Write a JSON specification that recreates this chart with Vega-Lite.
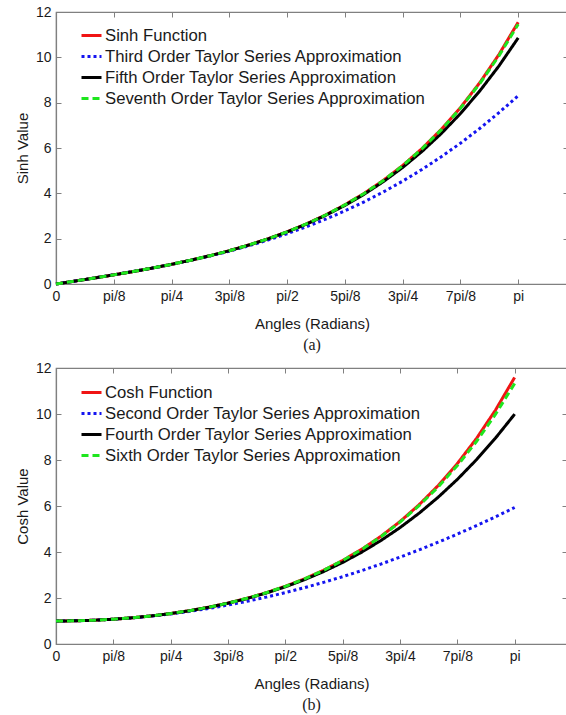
{
  "$schema": "https://vega.github.io/schema/vega-lite/v6.json",
  "background": "white",
  "padding": {"left": 14, "top": 4, "right": 0, "bottom": 0},
  "spacing": 6,
  "datasets": {
    "curves": [
      {"x": 0, "sinh": 0, "t3": 0, "t5": 0, "t7": 0, "cosh": 1, "c2": 1, "c4": 1, "c6": 1},
      {"x": 0.1309, "sinh": 0.131, "t3": 0.131, "t5": 0.131, "t7": 0.131, "cosh": 1.009, "c2": 1.009, "c4": 1.009, "c6": 1.009},
      {"x": 0.2618, "sinh": 0.265, "t3": 0.265, "t5": 0.265, "t7": 0.265, "cosh": 1.034, "c2": 1.034, "c4": 1.034, "c6": 1.034},
      {"x": 0.3927, "sinh": 0.403, "t3": 0.403, "t5": 0.403, "t7": 0.403, "cosh": 1.078, "c2": 1.077, "c4": 1.078, "c6": 1.078},
      {"x": 0.5236, "sinh": 0.548, "t3": 0.548, "t5": 0.548, "t7": 0.548, "cosh": 1.14, "c2": 1.137, "c4": 1.14, "c6": 1.14},
      {"x": 0.6545, "sinh": 0.702, "t3": 0.701, "t5": 0.702, "t7": 0.702, "cosh": 1.222, "c2": 1.214, "c4": 1.222, "c6": 1.222},
      {"x": 0.7854, "sinh": 0.869, "t3": 0.866, "t5": 0.869, "t7": 0.869, "cosh": 1.325, "c2": 1.308, "c4": 1.324, "c6": 1.325},
      {"x": 0.9163, "sinh": 1.05, "t3": 1.045, "t5": 1.05, "t7": 1.05, "cosh": 1.45, "c2": 1.42, "c4": 1.449, "c6": 1.45},
      {"x": 1.0472, "sinh": 1.249, "t3": 1.239, "t5": 1.249, "t7": 1.249, "cosh": 1.6, "c2": 1.548, "c4": 1.598, "c6": 1.6},
      {"x": 1.1781, "sinh": 1.47, "t3": 1.451, "t5": 1.47, "t7": 1.47, "cosh": 1.778, "c2": 1.694, "c4": 1.774, "c6": 1.778},
      {"x": 1.309, "sinh": 1.716, "t3": 1.683, "t5": 1.715, "t7": 1.716, "cosh": 1.986, "c2": 1.857, "c4": 1.979, "c6": 1.986},
      {"x": 1.4399, "sinh": 1.992, "t3": 1.937, "t5": 1.989, "t7": 1.992, "cosh": 2.229, "c2": 2.037, "c4": 2.216, "c6": 2.228},
      {"x": 1.5708, "sinh": 2.301, "t3": 2.217, "t5": 2.296, "t7": 2.301, "cosh": 2.509, "c2": 2.234, "c4": 2.487, "c6": 2.508},
      {"x": 1.7017, "sinh": 2.65, "t3": 2.523, "t5": 2.642, "t7": 2.65, "cosh": 2.833, "c2": 2.448, "c4": 2.797, "c6": 2.831},
      {"x": 1.8326, "sinh": 3.045, "t3": 2.858, "t5": 3.031, "t7": 3.044, "cosh": 3.205, "c2": 2.679, "c4": 3.149, "c6": 3.202},
      {"x": 1.9635, "sinh": 3.492, "t3": 3.225, "t5": 3.468, "t7": 3.491, "cosh": 3.632, "c2": 2.928, "c4": 3.547, "c6": 3.627},
      {"x": 2.0944, "sinh": 3.999, "t3": 3.626, "t5": 3.961, "t7": 3.996, "cosh": 4.122, "c2": 3.193, "c4": 3.995, "c6": 4.112},
      {"x": 2.2253, "sinh": 4.574, "t3": 4.062, "t5": 4.517, "t7": 4.57, "cosh": 4.682, "c2": 3.476, "c4": 4.498, "c6": 4.666},
      {"x": 2.3562, "sinh": 5.228, "t3": 4.536, "t5": 5.141, "t7": 5.221, "cosh": 5.323, "c2": 3.776, "c4": 5.06, "c6": 5.298},
      {"x": 2.4871, "sinh": 5.972, "t3": 5.051, "t5": 5.844, "t7": 5.961, "cosh": 6.055, "c2": 4.093, "c4": 5.687, "c6": 6.016},
      {"x": 2.618, "sinh": 6.818, "t3": 5.609, "t5": 6.633, "t7": 6.801, "cosh": 6.891, "c2": 4.427, "c4": 6.384, "c6": 6.831},
      {"x": 2.7489, "sinh": 7.781, "t3": 6.211, "t5": 7.519, "t7": 7.754, "cosh": 7.845, "c2": 4.778, "c4": 7.157, "c6": 7.757},
      {"x": 2.8798, "sinh": 8.877, "t3": 6.86, "t5": 8.511, "t7": 8.837, "cosh": 8.933, "c2": 5.147, "c4": 8.012, "c6": 8.805},
      {"x": 3.0107, "sinh": 10.126, "t3": 7.559, "t5": 9.62, "t7": 10.065, "cosh": 10.175, "c2": 5.532, "c4": 8.956, "c6": 9.99},
      {"x": 3.1416, "sinh": 11.549, "t3": 8.309, "t5": 10.859, "t7": 11.459, "cosh": 11.592, "c2": 5.935, "c4": 9.994, "c6": 11.329}
    ]
  },
  "vconcat": [
    {
      "width": 512,
      "height": 272,
      "title": {"text": "(a)", "orient": "bottom", "font": "Liberation Serif", "fontSize": 16, "fontWeight": "normal", "color": "#1a1a1a", "offset": 6},
      "data": {"name": "curves"},
      "transform": [{"fold": ["sinh", "t3", "t5", "t7"], "as": ["series", "value"]}],
      "layer": [
        {
          "mark": {"type": "line", "strokeWidth": 3},
          "encoding": {
            "x": {"field": "x", "type": "quantitative", "title": "Angles (Radians)",
              "scale": {"domain": [0, 3.48], "nice": false, "zero": false},
              "axis": {"orient": "bottom", "values": [0, 0.3927, 0.7854, 1.1781, 1.5708, 1.9635, 2.3562, 2.7489, 3.1416],
                "labelExpr": "['0','pi/8','pi/4','3pi/8','pi/2','5pi/8','3pi/4','7pi/8','pi'][round(datum.value/0.3927)]",
                "labelFlush": false, "labelOverlap": false, "tickSize": -5, "labelPadding": 10, "titlePadding": 13}},
            "y": {"field": "value", "type": "quantitative", "title": "Sinh Value",
              "scale": {"domain": [0, 12], "nice": false},
              "axis": {"orient": "left", "values": [0, 2, 4, 6, 8, 10, 12], "tickSize": -5, "labelPadding": 10, "titlePadding": 5}},
            "color": {"field": "series", "type": "nominal",
              "scale": {"domain": ["sinh", "t3", "t5", "t7"], "range": ["#f01414", "#1414f0", "#000000", "#1ee61e"]},
              "legend": {"title": null, "orient": "none", "legendX": 24, "legendY": 12,
                "labelExpr": "({'sinh':'Sinh Function','t3':'Third Order Taylor Series Approximation','t5':'Fifth Order Taylor Series Approximation','t7':'Seventh Order Taylor Series Approximation'})[datum.label]"}},
            "strokeDash": {"field": "series", "type": "nominal",
              "scale": {"domain": ["sinh", "t3", "t5", "t7"], "range": [[1, 0], [3, 3], [1, 0], [7, 4]]},
              "legend": {"title": null, "orient": "none", "legendX": 24, "legendY": 12,
                "labelExpr": "({'sinh':'Sinh Function','t3':'Third Order Taylor Series Approximation','t5':'Fifth Order Taylor Series Approximation','t7':'Seventh Order Taylor Series Approximation'})[datum.label]"}}
          }
        },
        {
          "mark": {"type": "line", "opacity": 0},
          "encoding": {
            "x": {"field": "x", "type": "quantitative", "title": null,
              "axis": {"orient": "top", "values": [0, 0.3927, 0.7854, 1.1781, 1.5708, 1.9635, 2.3562, 2.7489, 3.1416], "labels": false, "domain": false, "tickSize": -5}},
            "y": {"field": "value", "type": "quantitative", "title": null,
              "axis": {"orient": "right", "values": [0, 2, 4, 6, 8, 10, 12], "labels": false, "domain": false, "tickSize": -5}}
          }
        }
      ],
      "resolve": {"axis": {"x": "independent", "y": "independent"}}
    },
    {
      "width": 511,
      "height": 276,
      "title": {"text": "(b)", "orient": "bottom", "font": "Liberation Serif", "fontSize": 16, "fontWeight": "normal", "color": "#1a1a1a", "offset": 6},
      "data": {"name": "curves"},
      "transform": [{"fold": ["cosh", "c2", "c4", "c6"], "as": ["series", "value"]}],
      "layer": [
        {
          "mark": {"type": "line", "strokeWidth": 3},
          "encoding": {
            "x": {"field": "x", "type": "quantitative", "title": "Angles (Radians)",
              "scale": {"domain": [0, 3.5], "nice": false, "zero": false},
              "axis": {"orient": "bottom", "values": [0, 0.3927, 0.7854, 1.1781, 1.5708, 1.9635, 2.3562, 2.7489, 3.1416],
                "labelExpr": "['0','pi/8','pi/4','3pi/8','pi/2','5pi/8','3pi/4','7pi/8','pi'][round(datum.value/0.3927)]",
                "labelFlush": false, "labelOverlap": false, "tickSize": -5, "labelPadding": 10, "titlePadding": 13}},
            "y": {"field": "value", "type": "quantitative", "title": "Cosh Value",
              "scale": {"domain": [0, 12], "nice": false},
              "axis": {"orient": "left", "values": [0, 2, 4, 6, 8, 10, 12], "tickSize": -5, "labelPadding": 10, "titlePadding": 5}},
            "color": {"field": "series", "type": "nominal",
              "scale": {"domain": ["cosh", "c2", "c4", "c6"], "range": ["#f01414", "#1414f0", "#000000", "#1ee61e"]},
              "legend": {"title": null, "orient": "none", "legendX": 24, "legendY": 13,
                "labelExpr": "({'cosh':'Cosh Function','c2':'Second Order Taylor Series Approximation','c4':'Fourth Order Taylor Series Approximation','c6':'Sixth Order Taylor Series Approximation'})[datum.label]"}},
            "strokeDash": {"field": "series", "type": "nominal",
              "scale": {"domain": ["cosh", "c2", "c4", "c6"], "range": [[1, 0], [3, 3], [1, 0], [7, 4]]},
              "legend": {"title": null, "orient": "none", "legendX": 24, "legendY": 13,
                "labelExpr": "({'cosh':'Cosh Function','c2':'Second Order Taylor Series Approximation','c4':'Fourth Order Taylor Series Approximation','c6':'Sixth Order Taylor Series Approximation'})[datum.label]"}}
          }
        },
        {
          "mark": {"type": "line", "opacity": 0},
          "encoding": {
            "x": {"field": "x", "type": "quantitative", "title": null,
              "axis": {"orient": "top", "values": [0, 0.3927, 0.7854, 1.1781, 1.5708, 1.9635, 2.3562, 2.7489, 3.1416], "labels": false, "domain": false, "tickSize": -5}},
            "y": {"field": "value", "type": "quantitative", "title": null,
              "axis": {"orient": "right", "values": [0, 2, 4, 6, 8, 10, 12], "labels": false, "domain": false, "tickSize": -5}}
          }
        }
      ],
      "resolve": {"axis": {"x": "independent", "y": "independent"}}
    }
  ],
  "resolve": {"scale": {"color": "independent", "strokeDash": "independent"}, "legend": {"color": "independent", "strokeDash": "independent"}},
  "config": {
    "font": "Liberation Sans",
    "view": {"stroke": "#808080", "strokeWidth": 1.2},
    "axis": {"grid": false, "domainColor": "#808080", "tickColor": "#808080", "domainWidth": 1.2, "tickWidth": 1,
      "labelFont": "Liberation Sans", "labelFontSize": 14, "labelColor": "#1a1a1a",
      "titleFont": "Liberation Sans", "titleFontSize": 15, "titleFontWeight": "normal", "titleColor": "#1a1a1a"},
    "legend": {"labelFont": "Liberation Sans", "labelFontSize": 16.7, "labelColor": "#1a1a1a", "labelLimit": 450,
      "symbolType": "stroke", "symbolSize": 400, "symbolStrokeWidth": 3, "rowPadding": -0.7, "labelOffset": 2, "padding": 0}
  }
}
